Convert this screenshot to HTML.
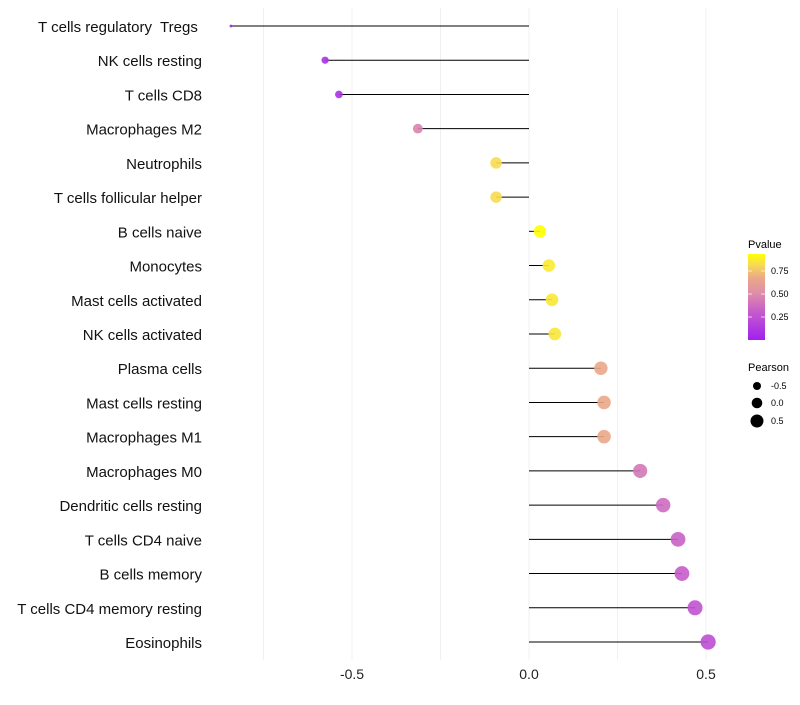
<!DOCTYPE html>
<html><head><meta charset="utf-8"><style>
body{margin:0;background:#fff;font-family:"Liberation Sans",sans-serif}
text{white-space:pre}
</style></head><body>
<svg id="chart" width="800" height="700" xmlns="http://www.w3.org/2000/svg">
<defs><linearGradient id="pg" x1="0" y1="1" x2="0" y2="0">
<stop offset="0" stop-color="#a020f0"/><stop offset="0.35" stop-color="#c860c8"/><stop offset="0.55" stop-color="#df8fa8"/><stop offset="0.72" stop-color="#eaa888"/><stop offset="0.88" stop-color="#f8dc50"/><stop offset="1" stop-color="#ffff00"/></linearGradient></defs>
<g id="grid"></g><g id="marks"></g><g id="labels"></g>
<g>
<text x="748" y="248" font-size="11">Pvalue</text>
<rect x="748" y="254" width="17" height="86" fill="url(#pg)"/>
<g stroke="#fff" stroke-width="1" opacity="0.7"><line x1="748" y1="271" x2="752" y2="271"/><line x1="761" y1="271" x2="765" y2="271"/><line x1="748" y1="294" x2="752" y2="294"/><line x1="761" y1="294" x2="765" y2="294"/><line x1="748" y1="317" x2="752" y2="317"/><line x1="761" y1="317" x2="765" y2="317"/></g>
<text x="771" y="274" font-size="9">0.75</text><text x="771" y="297" font-size="9">0.50</text><text x="771" y="320" font-size="9">0.25</text>
</g>
<g>
<text x="748" y="371" font-size="11">Pearson</text>
<circle cx="757" cy="386" r="4"/><circle cx="757" cy="403" r="5.3"/><circle cx="757" cy="421" r="6.5"/>
<text x="771" y="389" font-size="9">-0.5</text><text x="771" y="406" font-size="9">0.0</text><text x="771" y="424" font-size="9">0.5</text>
</g>
</svg>
<script>
const categories=["T cells regulatory  Tregs ","NK cells resting","T cells CD8","Macrophages M2","Neutrophils","T cells follicular helper","B cells naive","Monocytes","Mast cells activated","NK cells activated","Plasma cells","Mast cells resting","Macrophages M1","Macrophages M0","Dendritic cells resting","T cells CD4 naive","B cells memory","T cells CD4 memory resting","Eosinophils"];
const pearson=[-0.842,-0.576,-0.537,-0.314,-0.093,-0.093,0.031,0.056,0.065,0.073,0.203,0.212,0.212,0.314,0.379,0.421,0.432,0.469,0.506];
const pvalues=[0.02,0.1,0.1,0.5,0.88,0.88,1.0,0.93,0.92,0.91,0.72,0.72,0.72,0.45,0.4,0.36,0.33,0.28,0.25];
const xTicks=[-0.5,0,0.5];
const xTickLabels=["-0.5","0.0","0.5"];
const ns="http://www.w3.org/2000/svg";
const xs=v=>529+v*354;
const ys=i=>26+i*(616/18);
const stops=[[0,[160,32,240]],[0.35,[200,96,200]],[0.55,[223,143,168]],[0.72,[234,168,136]],[0.88,[248,220,80]],[1,[255,255,0]]];
function col(p){for(let k=1;k<stops.length;k++){if(p<=stops[k][0]){const a=stops[k-1],b=stops[k],t=(p-a[0])/(b[0]-a[0]);return "rgb("+a[1].map((c,j)=>Math.round(c+(b[1][j]-c)*t)).join(",")+")";}}return "rgb(255,255,0)";}
const mn=Math.min(...pearson),mx=Math.max(...pearson);
const rs=v=>Math.sqrt(2+56*(v-mn)/(mx-mn));
function mk(t,a,p){const e=document.createElementNS(ns,t);for(const k in a)e.setAttribute(k,a[k]);p.appendChild(e);return e;}
const grid=document.getElementById('grid'),marks=document.getElementById('marks'),labels=document.getElementById('labels');
[-0.75,-0.5,-0.25,0,0.25,0.5].forEach(v=>{const l=mk('line',{x1:xs(v),x2:xs(v),y1:8,y2:660,stroke:'#f0f0f0','stroke-width':1},grid);

});
xTicks.forEach((v,i)=>{const t=mk('text',{x:xs(v),y:679,'font-size':14,'text-anchor':'middle',fill:'#222'},labels);t.textContent=xTickLabels[i];

});
categories.forEach((c,i)=>{
const y=ys(i);
const t=mk('text',{x:202,y:y+6,'font-size':15,'text-anchor':'end',fill:'#111'},labels);t.textContent=c;


const l=mk('line',{x1:xs(0),x2:xs(pearson[i]),y1:y,y2:y,stroke:'#000','stroke-width':1},marks);


const d=mk('circle',{cx:xs(pearson[i]),cy:y,r:rs(pearson[i]),fill:col(pvalues[i]),opacity:0.9},marks);


});
</script>
</body></html>
